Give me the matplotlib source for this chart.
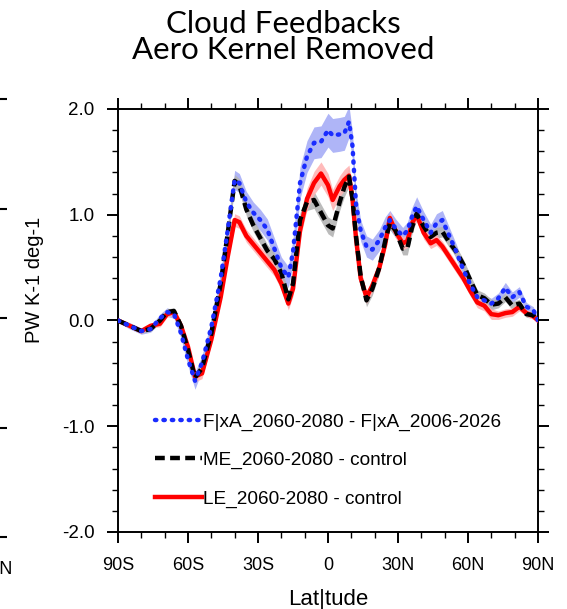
import numpy as np
import matplotlib
matplotlib.use('Agg')
import matplotlib.pyplot as plt

# latitude points (deg, negative = south)
lat = [-90, -85, -80, -76, -72, -69, -66, -63, -60, -57, -54, -50, -46, -43, -40,
       -38, -35, -32, -29, -26, -23, -20, -17, -15, -12, -9, -6, -3, 0, 2, 5, 7,
       9, 10.5, 12, 14, 16.5, 19, 22, 24.5, 26.5, 29, 32, 34, 36, 38, 41, 44,
       46.5, 49, 52, 55, 58, 61, 64, 67, 70, 73, 76, 79, 82, 85, 88, 90]

# FixA_2060-2080 - FixA_2006-2026
fixa = [0.0, -0.05, -0.10, -0.08, 0.02, 0.08, 0.06, -0.12, -0.37, -0.57, -0.40,
        -0.06, 0.40, 0.85, 1.33, 1.30, 1.12, 1.02, 0.95, 0.86, 0.68, 0.50, 0.41,
        0.65, 1.30, 1.55, 1.68, 1.69, 1.80, 1.75, 1.76, 1.77, 1.88, 1.65, 1.10,
        0.85, 0.70, 0.67, 0.76, 0.88, 0.95, 0.87, 0.80, 0.85, 0.98, 1.08, 0.95,
        0.83, 0.92, 0.95, 0.80, 0.65, 0.48, 0.34, 0.22, 0.19, 0.16, 0.21, 0.31,
        0.22, 0.27, 0.13, 0.10, 0.0]
fixa_spread = [0.02, 0.03, 0.03, 0.03, 0.04, 0.04, 0.04, 0.05, 0.06, 0.08, 0.07,
               0.06, 0.06, 0.07, 0.09, 0.09, 0.10, 0.10, 0.10, 0.10, 0.10, 0.10, 0.10,
               0.12, 0.15, 0.15, 0.15, 0.15, 0.16, 0.16, 0.16, 0.16, 0.15, 0.13, 0.12,
               0.10, 0.10, 0.10, 0.10, 0.10, 0.09, 0.09, 0.08, 0.08, 0.09, 0.09, 0.08,
               0.08, 0.09, 0.09, 0.08, 0.07, 0.06, 0.05, 0.05, 0.05, 0.05, 0.05, 0.05,
               0.05, 0.05, 0.04, 0.03, 0.02]

# ME_2060-2080 - control
me = [0.0, -0.05, -0.10, -0.08, 0.0, 0.08, 0.09, -0.05, -0.28, -0.54, -0.45,
      -0.12, 0.35, 0.82, 1.32, 1.28, 1.05, 0.90, 0.78, 0.66, 0.58, 0.45, 0.20,
      0.35, 0.95, 1.12, 1.14, 1.02, 0.90, 0.87, 1.12, 1.26, 1.36, 1.15, 0.80,
      0.42, 0.19, 0.30, 0.50, 0.75, 0.92, 0.85, 0.68, 0.68, 0.88, 1.01, 0.89,
      0.79, 0.83, 0.84, 0.74, 0.65, 0.53, 0.38, 0.24, 0.21, 0.15, 0.16, 0.22,
      0.14, 0.16, 0.06, 0.05, 0.0]
me_spread = [0.02, 0.02, 0.02, 0.02, 0.03, 0.03, 0.03, 0.04, 0.04, 0.05, 0.05,
             0.04, 0.04, 0.05, 0.06, 0.06, 0.06, 0.06, 0.06, 0.06, 0.06, 0.06, 0.07,
             0.07, 0.07, 0.08, 0.08, 0.08, 0.08, 0.08, 0.08, 0.09, 0.09, 0.08, 0.07,
             0.07, 0.06, 0.06, 0.06, 0.06, 0.06, 0.06, 0.06, 0.06, 0.06, 0.06, 0.06,
             0.05, 0.05, 0.05, 0.05, 0.05, 0.05, 0.05, 0.05, 0.05, 0.05, 0.04, 0.04,
             0.04, 0.04, 0.03, 0.03, 0.02]

# LE_2060-2080 - control
le = [0.0, -0.05, -0.10, -0.05, -0.03, 0.06, 0.08, -0.05, -0.25, -0.53, -0.50,
      -0.18, 0.22, 0.60, 0.95, 0.93, 0.80, 0.72, 0.64, 0.56, 0.48, 0.35, 0.16,
      0.30, 0.85, 1.15, 1.30, 1.39, 1.28, 1.14, 1.27, 1.33, 1.37, 1.15, 0.78,
      0.40, 0.22, 0.33, 0.50, 0.72, 0.97, 0.84, 0.73, 0.75, 0.92, 1.00, 0.83,
      0.73, 0.76, 0.70, 0.60, 0.50, 0.40, 0.28, 0.17, 0.14, 0.06, 0.05, 0.07,
      0.08, 0.13, 0.07, 0.04, 0.0]
le_spread = [0.02, 0.02, 0.02, 0.02, 0.03, 0.03, 0.03, 0.04, 0.04, 0.05, 0.05,
             0.04, 0.04, 0.05, 0.06, 0.06, 0.06, 0.06, 0.06, 0.06, 0.06, 0.06, 0.06,
             0.07, 0.08, 0.10, 0.11, 0.11, 0.11, 0.10, 0.10, 0.10, 0.10, 0.09, 0.08,
             0.07, 0.06, 0.06, 0.06, 0.06, 0.06, 0.06, 0.06, 0.06, 0.06, 0.06, 0.06,
             0.05, 0.05, 0.05, 0.05, 0.05, 0.05, 0.05, 0.05, 0.05, 0.05, 0.04, 0.04,
             0.04, 0.04, 0.03, 0.03, 0.02]

xticks = [-90, -60, -30, 0, 30, 60, 90]
xticklabels = ['90S', '60S', '30S', '0', '30N', '60N', '90N']
yticks = [-2, -1, 0, 1, 2]
yticklabels = ['-2.0', '-1.0', '0.0', '1.0', '2.0']

labels = ['F|xA_2060-2080 - F|xA_2006-2026',
          'ME_2060-2080 - control',
          'LE_2060-2080 - control']

plt.rcParams['font.family'] = ['Liberation Sans', 'DejaVu Sans']

fig = plt.figure(figsize=(5.67, 6.09), dpi=100)
W, H = 567.0, 609.0

# piece of the neighbouring panel at the left edge
ax0 = fig.add_axes([-200 / W, 72 / H, 196 / W, 438 / H])
ax0.set_xlim(-90, 90)
ax0.set_ylim(-2, 2)
for s in ax0.spines.values():
    s.set_visible(False)
ax0.patch.set_visible(False)
ax0.set_yticks(yticks)
ax0.tick_params(axis='y', left=False, right=True, labelleft=False,
                direction='out', length=8, width=1.5)
ax0.set_xticks([90])
ax0.set_xticklabels(['90N'], fontsize=13)
ax0.tick_params(axis='x', length=0, pad=17)

# main panel
ax = fig.add_axes([118 / W, 77 / H, 420 / W, 423 / H])
lat_a = np.array(lat)

series = [(fixa, fixa_spread, '#a6adf7'),
          (me, me_spread, '#b4b4b4'),
          (le, le_spread, '#ffb3b3')]
for vals, spr, fc in series:
    v = np.array(vals)
    s = np.array(spr)
    ax.fill_between(lat_a, v - s, v + s, color=fc, lw=0, alpha=0.9)

ax.plot(lat_a, le, color='#ff0000', lw=3.2, label=labels[2], zorder=3)
ax.plot(lat_a, me, color='black', lw=3.2, ls=(0, (2.2, 1.2)), label=labels[1], zorder=4)
ax.plot(lat_a, fixa, color='#1a2cff', lw=3.2, ls=(0, (0.3, 1.6)),
        dash_capstyle='round', label=labels[0], zorder=5)

ax.set_xlim(-90, 90)
ax.set_ylim(-2, 2)
ax.set_xticks(xticks)
ax.set_xticklabels(xticklabels, fontsize=13)
ax.set_xticks(np.arange(-80, 90, 10), minor=True)
ax.set_yticks(yticks)
ax.set_yticklabels(yticklabels, fontsize=13.5)
ax.set_yticks(np.arange(-1.8, 2.0, 0.2), minor=True)
ax.tick_params(which='major', direction='out', length=8, width=1.4,
               top=True, right=True)
ax.tick_params(which='minor', direction='out', length=4, width=1.0,
               top=True, right=True)
ax.tick_params(axis='y', which='major', pad=9)
ax.tick_params(axis='x', which='major', pad=10)
for s in ax.spines.values():
    s.set_linewidth(1.4)

ax.set_xlabel('Lat|tude', fontsize=16, labelpad=11)
ax.set_ylabel('PW K-1 deg-1', fontsize=14.5)
ax.yaxis.set_label_coords(-0.176, 0.595)

h, l = ax.get_legend_handles_labels()
ax.legend(h[::-1], l[::-1], loc='upper left', bbox_to_anchor=(0.088, 0.281),
          frameon=False, fontsize=13.7, handlelength=2.45, handletextpad=0.05,
          labelspacing=1.1, borderpad=0, borderaxespad=0)

fig.text(0.50, 0.984, 'Cloud Feedbacks\nAero Kernel Removed', ha='center', va='top',
         fontsize=22.5, family='Lato', linespacing=0.93)

fig.savefig('out.png', dpi=100)
